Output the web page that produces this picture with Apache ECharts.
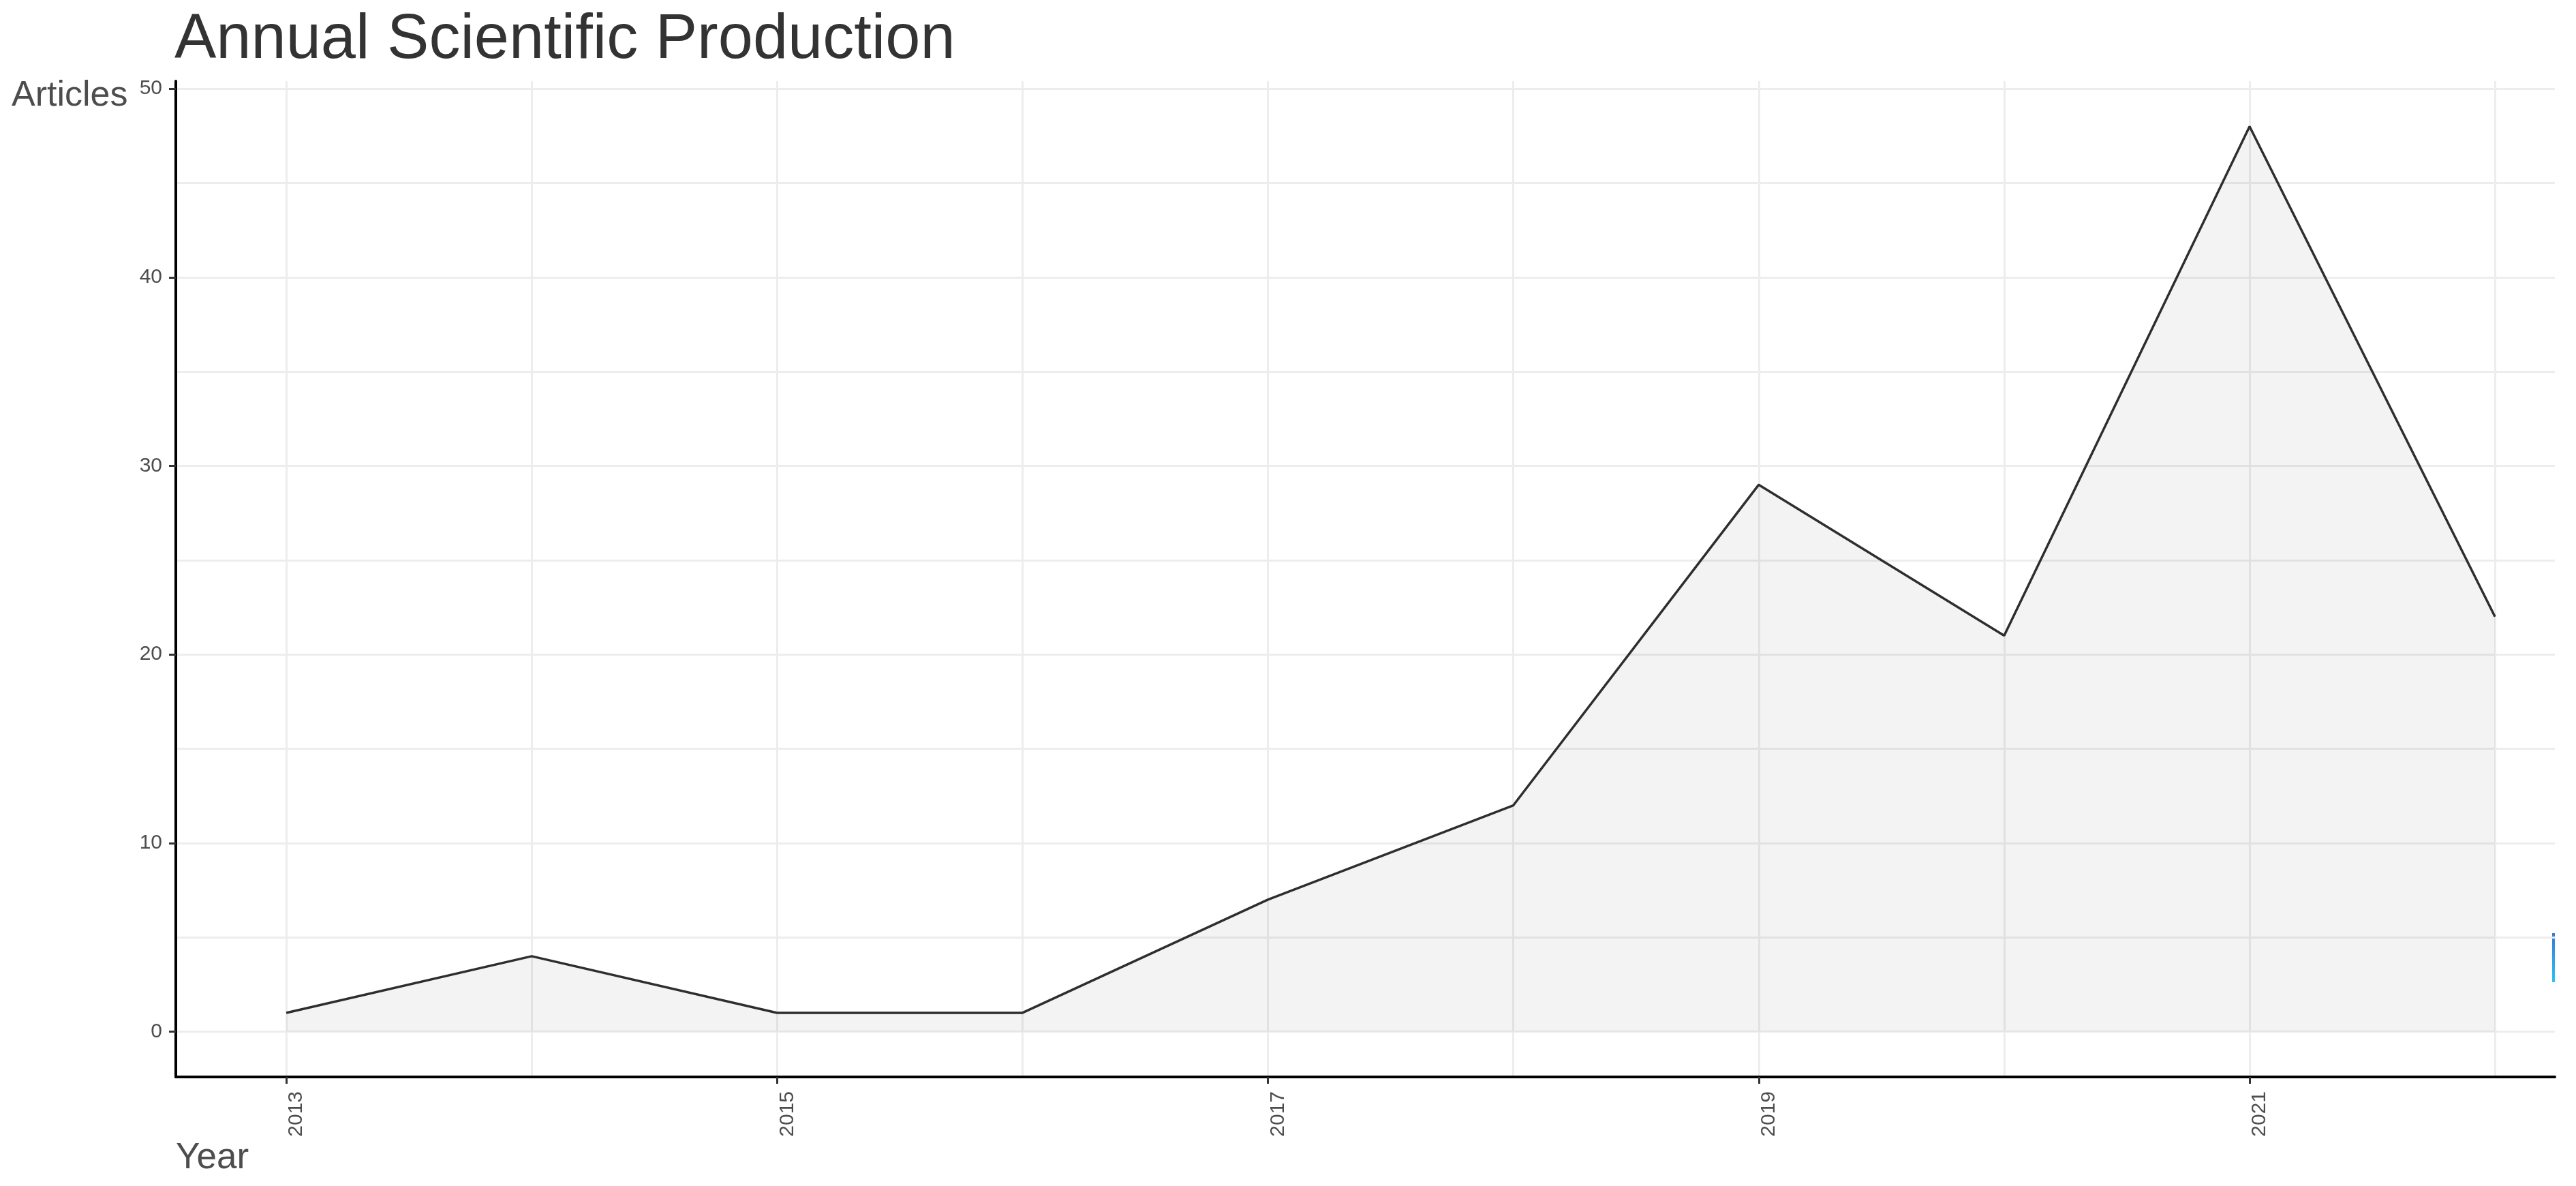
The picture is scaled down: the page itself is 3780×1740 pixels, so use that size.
<!DOCTYPE html>
<html>
<head>
<meta charset="utf-8">
<script src="https://cdn.jsdelivr.net/npm/echarts@6/dist/echarts.min.js"></script>
<style>
html,body{margin:0;padding:0;background:#fff;}
#chart{width:3780px;height:1740px;}
</style>
</head>
<body>
<div id="chart"></div>
<script>
// ---- data ----
var years = [2013, 2014, 2015, 2016, 2017, 2018, 2019, 2020, 2021, 2022];
var articles = [1, 4, 1, 1, 7, 12, 29, 21, 48, 22];
var xTickLabels = [2013, 2015, 2017, 2019, 2021];
var yTickLabels = [0, 10, 20, 30, 40, 50];
var yMinorGrid = [0, 5, 10, 15, 20, 25, 30, 35, 40, 45, 50];

var seriesData = years.map(function (y, i) { return [y, articles[i]]; });

var FONT = '"Liberation Sans", Arial, sans-serif';
var chart = echarts.init(document.getElementById('chart'), null, {renderer: 'canvas'});

var option = {
  backgroundColor: '#ffffff',
  animation: false,
  title: [
    {text: 'Annual Scientific Production', left: 256, top: 14, padding: 0,
     textStyle: {fontFamily: FONT, fontSize: 92, fontWeight: 'normal', color: '#333333'}},
    {text: 'Articles', left: 17, top: 115, padding: 0,
     textStyle: {fontFamily: FONT, fontSize: 52, fontWeight: 'normal', color: '#4d4d4d'}},
    {text: 'Year', left: 258, top: 1673, padding: 0,
     textStyle: {fontFamily: FONT, fontSize: 53, fontWeight: 'normal', color: '#4d4d4d'}}
  ],
  grid: {left: 258, top: 119, right: 31, bottom: 160, containLabel: false},
  xAxis: [
    {
      type: 'value', min: 2012.55, max: 2022.244, position: 'bottom',
      axisLine: {show: true, onZero: false, lineStyle: {color: '#000000', width: 4}},
      axisTick: {show: true, customValues: xTickLabels, length: 10, lineStyle: {color: '#333333', width: 3}},
      axisLabel: {show: true, customValues: xTickLabels, rotate: 90, margin: 21, verticalAlign: 'top',
                  fontFamily: FONT, fontSize: 30, color: '#4d4d4d',
                  formatter: function (v) { return String(v); }},
      splitLine: {show: false}
    },
    {
      type: 'value', min: 2012.55, max: 2022.244, position: 'bottom',
      axisLine: {show: false},
      axisTick: {show: false, customValues: years},
      axisLabel: {show: false},
      splitLine: {show: true, lineStyle: {color: '#ededed', width: 3}}
    }
  ],
  yAxis: [
    {
      type: 'value', min: -2.4, max: 50.4, position: 'left',
      axisLine: {show: true, onZero: false, lineStyle: {color: '#000000', width: 4}},
      axisTick: {show: true, customValues: yTickLabels, length: 10, lineStyle: {color: '#333333', width: 3}},
      axisLabel: {show: true, customValues: yTickLabels, margin: 20,
                  fontFamily: FONT, fontSize: 30, color: '#4d4d4d'},
      splitLine: {show: false}
    },
    {
      type: 'value', min: -2.4, max: 50.4, position: 'left',
      axisLine: {show: false},
      axisTick: {show: false, customValues: yMinorGrid},
      axisLabel: {show: false},
      splitLine: {show: true, lineStyle: {color: '#ededed', width: 3}}
    }
  ],
  series: [
    {
      type: 'line', xAxisIndex: 0, yAxisIndex: 0,
      data: seriesData,
      showSymbol: false, symbol: 'none',
      lineStyle: {color: '#2e2e2e', width: 3.5},
      areaStyle: {color: 'rgba(0,0,0,0.065)', origin: 0},
      z: 3
    }
  ],
  graphic: [
    {type: 'rect', left: 3745, top: 1369, shape: {width: 4, height: 72}, silent: true,
     style: {fill: new echarts.graphic.LinearGradient(0, 0, 0, 1, [
       {offset: 0, color: '#3b78d8'}, {offset: 1, color: '#2bc4f2'}])}}
  ]
};
chart.setOption(option);
</script>
</body>
</html>
